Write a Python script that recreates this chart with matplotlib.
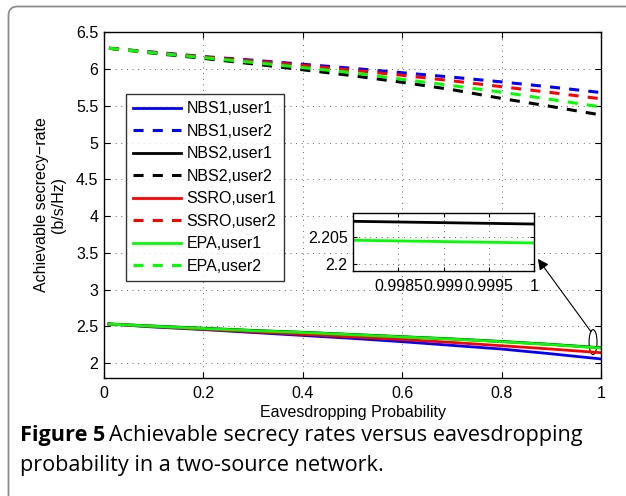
import matplotlib
matplotlib.use("Agg")
import matplotlib.pyplot as plt
from matplotlib.patches import Ellipse, FancyBboxPatch
from matplotlib.transforms import IdentityTransform

# ---------------- data ----------------
prob = [0.01, 0.1, 0.2, 0.3, 0.4, 0.5, 0.6, 0.7, 0.8, 0.9, 1.0]

nbs1_user1 = [2.53, 2.49, 2.455, 2.415, 2.375, 2.335, 2.29, 2.24, 2.19, 2.125, 2.055]
nbs1_user2 = [6.283, 6.23, 6.17, 6.12, 6.065, 6.01, 5.95, 5.89, 5.825, 5.755, 5.68]
nbs2_user1 = [2.532, 2.503, 2.473, 2.443, 2.418, 2.388, 2.358, 2.328, 2.293, 2.253, 2.2074]
nbs2_user2 = [6.283, 6.215, 6.145, 6.07, 5.99, 5.91, 5.82, 5.72, 5.60, 5.49, 5.375]
ssro_user1 = [2.53, 2.495, 2.46, 2.425, 2.39, 2.355, 2.32, 2.28, 2.235, 2.19, 2.14]
ssro_user2 = [6.283, 6.225, 6.165, 6.11, 6.05, 5.985, 5.915, 5.84, 5.76, 5.68, 5.595]
epa_user1 = [2.53, 2.50, 2.47, 2.44, 2.415, 2.385, 2.355, 2.325, 2.29, 2.25, 2.2039]
epa_user2 = [6.283, 6.22, 6.155, 6.09, 6.02, 5.95, 5.86, 5.775, 5.685, 5.585, 5.485]

# zoomed inset (near prob = 1)
inset_prob = [0.998, 0.999, 1.0]
inset_nbs2_user1 = [2.2079, 2.20765, 2.2074]
inset_epa_user1 = [2.2044, 2.20415, 2.2039]

xticks = [0, 0.2, 0.4, 0.6, 0.8, 1]
xticklabels = ["0", "0.2", "0.4", "0.6", "0.8", "1"]
yticks = [2, 2.5, 3, 3.5, 4, 4.5, 5, 5.5, 6, 6.5]
yticklabels = ["2", "2.5", "3", "3.5", "4", "4.5", "5", "5.5", "6", "6.5"]
inset_xticks = [0.9985, 0.999, 0.9995, 1.0]
inset_xticklabels = ["0.9985", "0.999", "0.9995", "1"]
inset_yticks = [2.2, 2.205]
inset_yticklabels = ["2.2", "2.205"]

series = [
    ("NBS1,user1", nbs1_user1, "#0000ff", "-"),
    ("NBS1,user2", nbs1_user2, "#0000ff", "--"),
    ("NBS2,user1", nbs2_user1, "#000000", "-"),
    ("NBS2,user2", nbs2_user2, "#000000", "--"),
    ("SSRO,user1", ssro_user1, "#ff0000", "-"),
    ("SSRO,user2", ssro_user2, "#ff0000", "--"),
    ("EPA,user1", epa_user1, "#00ff00", "-"),
    ("EPA,user2", epa_user2, "#00ff00", "--"),
]

# ---------------- figure ----------------
W, H = 626, 496
plt.rcParams['font.family'] = ['Liberation Sans', 'DejaVu Sans']
fig = plt.figure(figsize=(W / 100, H / 100), dpi=100)

def frac(l, t, r, b):
    return [l / W, 1 - b / H, (r - l) / W, (b - t) / H]

ax = fig.add_axes(frac(104, 32.3, 601, 377.7))
grid_ls = (0, (0.8, 5.0))

for label, vals, col, ls in series:
    if ls == "--":
        ax.plot(prob, vals, color=col, lw=2.2, linestyle=(0, (3.3, 3.0)), label=label)
    else:
        ax.plot(prob, vals, color=col, lw=2.0, linestyle="-", label=label)

ax.set_xlim(0, 1)
ax.set_ylim(1.8, 6.5)
ax.set_xticks(xticks)
ax.set_xticklabels(xticklabels)
ax.set_yticks(yticks)
ax.set_yticklabels(yticklabels)
ax.tick_params(direction="in", top=True, right=True, length=4, width=0.8,
               labelsize=11.5, pad=4)
ax.tick_params(axis="x", pad=6)
ax.grid(True, color="0.25", linestyle=grid_ls, lw=0.7)
for s in ax.spines.values():
    s.set_linewidth(1.0)

ax.set_xlabel("Eavesdropping Probability", fontsize=11.5, labelpad=3)
fig.text(50 / W, 1 - 205 / H, "Achievable secrecy\u2212rate\n(b/s/Hz)", rotation=90,
         ha="center", va="center", multialignment="center", fontsize=11.5,
         linespacing=1.2)

leg = ax.legend(loc="upper left", bbox_to_anchor=((126 - 104) / 497, (377.7 - 94) / 345.4),
                borderaxespad=0, fontsize=11.5, frameon=True, fancybox=False,
                edgecolor="black", handlelength=3.0, handletextpad=0.35,
                labelspacing=0.47, borderpad=0.45)
leg.get_frame().set_linewidth(1.0)

# annotation: ellipse + arrow
ax.add_patch(Ellipse((0.984, 2.285), 0.016, 0.34, fill=False, lw=0.8, color="black"))
ax.annotate("", xy=(0.873, 3.417), xytext=(0.98, 2.425),
            arrowprops=dict(arrowstyle="-|>", color="black", lw=0.8,
                            mutation_scale=16, shrinkA=0, shrinkB=0))

# inset
axi = fig.add_axes(frac(353.3, 213, 533.7, 270.7))
axi.plot(inset_prob, inset_nbs2_user1, color="#000000", lw=2.0)
axi.plot(inset_prob, inset_epa_user1, color="#00ff00", lw=2.0)
axi.set_xlim(0.998, 1.0)
axi.set_ylim(2.19876, 2.20944)
axi.set_xticks(inset_xticks)
axi.set_xticklabels(inset_xticklabels)
axi.set_yticks(inset_yticks)
axi.set_yticklabels(inset_yticklabels)
axi.tick_params(direction="in", top=True, right=True, length=3, width=0.8,
                labelsize=11.5, pad=4)
axi.tick_params(axis="x", pad=6)
axi.grid(True, color="0.25", linestyle=grid_ls, lw=0.7)
for s in axi.spines.values():
    s.set_linewidth(1.0)

# outer rounded frame
frame = FancyBboxPatch((8.5, -60), 700, H - 6.5 + 60,
                       boxstyle="round,pad=0,rounding_size=9",
                       transform=IdentityTransform(), ec="#8c8c8c", fc="none", lw=1.3)
fig.patches.append(frame)

# caption
cap_font = ['Open Sans', 'DejaVu Sans']
cap_size = 15.6
fig.canvas.draw()
r = fig.canvas.get_renderer()
t1 = fig.text(20 / W, 1 - 436 / H, "Figure 5", fontsize=cap_size, fontweight="bold",
              family=cap_font, ha="left", va="center")
bb = t1.get_window_extent(renderer=r)
fig.text((bb.x1 + 4) / W, 1 - 436 / H, "Achievable secrecy rates versus eavesdropping",
         fontsize=cap_size, family=cap_font, ha="left", va="center")
fig.text(20 / W, 1 - 466 / H, "probability in a two-source network.",
         fontsize=cap_size, family=cap_font, ha="left", va="center")

fig.savefig("out.png", dpi=100)
